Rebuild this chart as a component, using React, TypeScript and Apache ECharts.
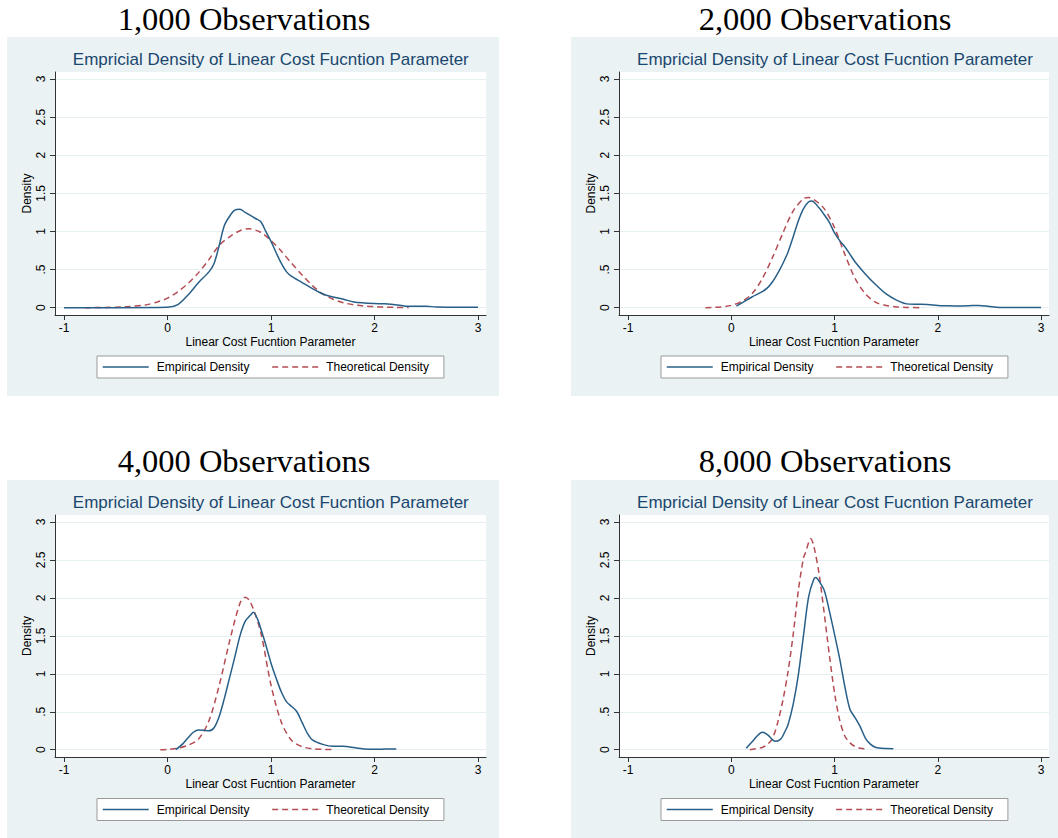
import React, { useEffect, useRef } from "react";
import * as echarts from "echarts";

// Tick positions and labels shared by all four panels
const xTicks = [-1, 0, 1, 2, 3];
const yTicks = [0, 0.5, 1, 1.5, 2, 2.5, 3];
const yTickLabels = ["0", ".5", "1", "1.5", "2", "2.5", "3"];

const panelTitles = ["1,000 Observations", "2,000 Observations", "4,000 Observations", "8,000 Observations"];
const chartTitle = "Empricial Density of Linear Cost Fucntion Parameter";
const xAxisTitle = "Linear Cost Fucntion Parameter";
const yAxisTitle = "Density";
const seriesNames = ["Empirical Density", "Theoretical Density"];

// 1,000 observations
const emp1000X = [-1.0, -0.5, 0.0, 0.1, 0.2, 0.3, 0.4, 0.45, 0.5, 0.55, 0.6, 0.65, 0.7, 0.75, 0.8, 0.85, 0.9, 0.95, 1.0, 1.05, 1.1, 1.15, 1.2, 1.3, 1.4, 1.5, 1.6, 1.7, 1.8, 1.9, 2.0, 2.1, 2.2, 2.3, 2.5, 2.6, 2.8, 3.0];
const emp1000Y = [0.0, 0.0, 0.005, 0.04, 0.17, 0.33, 0.47, 0.58, 0.82, 1.08, 1.2, 1.28, 1.29, 1.25, 1.21, 1.17, 1.13, 1.0, 0.87, 0.72, 0.58, 0.47, 0.41, 0.33, 0.25, 0.18, 0.14, 0.11, 0.075, 0.062, 0.055, 0.05, 0.04, 0.02, 0.018, 0.01, 0.005, 0.005];
const theo1000X = [-0.8, -0.6, -0.4, -0.2, -0.1, 0.0, 0.1, 0.2, 0.3, 0.4, 0.5, 0.6, 0.7, 0.78, 0.9, 1.0, 1.1, 1.2, 1.3, 1.4, 1.5, 1.6, 1.7, 1.8, 1.9, 2.0, 2.1, 2.2, 2.33];
const theo1000Y = [0.0, 0.003, 0.012, 0.04, 0.075, 0.125, 0.21, 0.32, 0.46, 0.63, 0.82, 0.93, 1.01, 1.035, 0.99, 0.88, 0.74, 0.58, 0.43, 0.29, 0.18, 0.11, 0.065, 0.038, 0.022, 0.013, 0.007, 0.004, 0.003];

// 2,000 observations
const emp2000X = [0.05, 0.1, 0.2, 0.3, 0.35, 0.4, 0.45, 0.5, 0.55, 0.6, 0.65, 0.7, 0.75, 0.78, 0.85, 0.9, 0.95, 1.0, 1.05, 1.1, 1.15, 1.2, 1.3, 1.4, 1.5, 1.6, 1.7, 1.8, 1.9, 2.0, 2.1, 2.2, 2.3, 2.4, 2.5, 2.6, 2.8, 3.0];
const emp2000Y = [0.02, 0.06, 0.14, 0.21, 0.26, 0.34, 0.45, 0.58, 0.73, 0.93, 1.14, 1.3, 1.39, 1.4, 1.31, 1.22, 1.12, 0.98, 0.88, 0.8, 0.7, 0.6, 0.44, 0.3, 0.18, 0.1, 0.05, 0.045, 0.042, 0.03, 0.025, 0.022, 0.025, 0.03, 0.015, 0.003, 0.002, 0.002];
const theo2000X = [-0.25, -0.1, 0.0, 0.1, 0.2, 0.3, 0.4, 0.5, 0.6, 0.7, 0.75, 0.8, 0.9, 1.0, 1.1, 1.2, 1.3, 1.4, 1.5, 1.6, 1.7, 1.86];
const theo2000Y = [0.0, 0.01, 0.03, 0.08, 0.18, 0.38, 0.66, 0.98, 1.27, 1.43, 1.445, 1.42, 1.3, 1.05, 0.7, 0.38, 0.18, 0.07, 0.03, 0.01, 0.003, 0.0];

// 4,000 observations
const emp4000X = [0.08, 0.15, 0.2, 0.25, 0.3, 0.35, 0.4, 0.45, 0.5, 0.55, 0.6, 0.65, 0.7, 0.75, 0.8, 0.83, 0.87, 0.9, 0.95, 1.0, 1.05, 1.1, 1.15, 1.2, 1.25, 1.3, 1.35, 1.4, 1.5, 1.6, 1.7, 1.75, 1.8, 1.9, 2.0, 2.1, 2.21];
const emp4000Y = [0.0, 0.08, 0.16, 0.23, 0.26, 0.255, 0.25, 0.29, 0.44, 0.68, 0.95, 1.22, 1.5, 1.69, 1.77, 1.81, 1.72, 1.6, 1.38, 1.14, 0.94, 0.76, 0.63, 0.57, 0.5, 0.36, 0.22, 0.13, 0.07, 0.045, 0.045, 0.04, 0.028, 0.01, 0.005, 0.008, 0.01];
const theo4000X = [-0.07, 0.0, 0.1, 0.2, 0.3, 0.4, 0.5, 0.6, 0.7, 0.75, 0.8, 0.9, 1.0, 1.1, 1.2, 1.3, 1.4, 1.5, 1.62];
const theo4000Y = [0.0, 0.004, 0.02, 0.06, 0.14, 0.38, 0.85, 1.43, 1.93, 2.01, 1.95, 1.55, 0.85, 0.36, 0.12, 0.04, 0.012, 0.004, 0.002];

// 8,000 observations
const emp8000X = [0.145, 0.2, 0.25, 0.3, 0.35, 0.4, 0.43, 0.48, 0.52, 0.55, 0.6, 0.65, 0.7, 0.75, 0.8, 0.82, 0.85, 0.9, 0.95, 1.0, 1.05, 1.1, 1.15, 1.2, 1.25, 1.3, 1.35, 1.4, 1.5, 1.57];
const emp8000Y = [0.02, 0.1, 0.18, 0.23, 0.2, 0.13, 0.11, 0.14, 0.24, 0.33, 0.6, 0.99, 1.51, 2.02, 2.25, 2.27, 2.22, 2.1, 1.83, 1.52, 1.2, 0.83, 0.53, 0.42, 0.3, 0.15, 0.07, 0.03, 0.015, 0.013];
const theo8000X = [0.18, 0.3, 0.35, 0.4, 0.45, 0.5, 0.55, 0.6, 0.65, 0.7, 0.72, 0.77, 0.8, 0.85, 0.9, 0.95, 1.0, 1.05, 1.1, 1.15, 1.2, 1.25, 1.31];
const theo8000Y = [0.0, 0.03, 0.07, 0.15, 0.36, 0.65, 1.03, 1.52, 2.1, 2.53, 2.6, 2.78, 2.68, 2.32, 1.8, 1.25, 0.75, 0.39, 0.18, 0.09, 0.04, 0.02, 0.01];

const empiricalX = [emp1000X, emp2000X, emp4000X, emp8000X];
const empiricalY = [emp1000Y, emp2000Y, emp4000Y, emp8000Y];
const theoreticalX = [theo1000X, theo2000X, theo4000X, theo8000X];
const theoreticalY = [theo1000Y, theo2000Y, theo4000Y, theo8000Y];

// Panel layout in page pixels
const layout = [
  { bgX: 7, bgY: 37, bgW: 492, bgH: 359, gL: 55, gT: 72, gW: 431, gH: 243, headX: 244, headY: 18.5, titleX: 270.8, titleY: 59.5, legL: 97, legT: 356 },
  { bgX: 571, bgY: 37, bgW: 487, bgH: 359, gL: 619, gT: 72, gW: 430, gH: 243, headX: 825, headY: 18.5, titleX: 835, titleY: 59.5, legL: 661, legT: 356 },
  { bgX: 7, bgY: 480, bgW: 492, bgH: 358, gL: 55, gT: 515, gW: 431, gH: 242, headX: 244, headY: 461, titleX: 270.8, titleY: 502.5, legL: 97, legT: 798.5 },
  { bgX: 571, bgY: 480, bgW: 487, bgH: 358, gL: 619, gT: 515, gW: 430, gH: 242, headX: 825, headY: 461, titleX: 835, titleY: 502.5, legL: 661, legT: 798.5 },
];

const SANS = "'Liberation Sans', Arial, Helvetica, sans-serif";
const SERIF = "'Liberation Serif', 'Times New Roman', serif";
const NAVY = "#1A476F";
const LINE_BLUE = "#285F88";
const LINE_RED = "#B44C53";
const BG = "#EAF2F3";

function pairs(xs: number[], ys: number[]) {
  return xs.map((x, i) => [x, ys[i]]);
}

function buildOption() {
  const grid: any[] = [];
  const xAxis: any[] = [];
  const yAxis: any[] = [];
  const series: any[] = [];
  const legend: any[] = [];
  const graphic: any[] = [];

  layout.forEach((p, i) => {
    graphic.push({
      type: "rect",
      z: -10,
      silent: true,
      shape: { x: p.bgX, y: p.bgY, width: p.bgW, height: p.bgH },
      style: { fill: BG },
    });
    graphic.push({
      type: "text",
      x: p.headX,
      y: p.headY,
      silent: true,
      style: { text: panelTitles[i], font: `32.5px ${SERIF}`, fill: "#000", align: "center", verticalAlign: "middle" },
    });
    graphic.push({
      type: "text",
      x: p.titleX,
      y: p.titleY,
      silent: true,
      style: { text: chartTitle, font: `17px ${SANS}`, fill: NAVY, align: "center", verticalAlign: "middle" },
    });

    grid.push({
      left: p.gL,
      top: p.gT,
      width: p.gW,
      height: p.gH,
      show: true,
      backgroundColor: "#ffffff",
      borderWidth: 0,
      containLabel: false,
    });

    xAxis.push({
      type: "value",
      gridIndex: i,
      min: -1.087,
      max: 3.077,
      name: xAxisTitle,
      nameLocation: "middle",
      nameGap: 21,
      nameTextStyle: { fontSize: 12, color: "#000", fontFamily: SANS },
      axisLine: { show: true, onZero: false, lineStyle: { color: "#333", width: 1 } },
      axisTick: { show: true, length: 5, customValues: xTicks, lineStyle: { color: "#333" } },
      axisLabel: { customValues: xTicks, fontSize: 12, color: "#000", margin: 7, fontFamily: SANS, formatter: (v: number) => String(v) },
      splitLine: { show: false },
    });

    yAxis.push({
      type: "value",
      gridIndex: i,
      min: -0.096,
      max: 3.092,
      name: yAxisTitle,
      nameLocation: "middle",
      nameGap: 22,
      nameTextStyle: { fontSize: 12, color: "#000", fontFamily: SANS },
      axisLine: { show: true, onZero: false, lineStyle: { color: "#333", width: 1 } },
      axisTick: { show: true, length: 5, customValues: yTicks, lineStyle: { color: "#333" } },
      axisLabel: {
        customValues: yTicks,
        rotate: 90,
        fontSize: 12,
        color: "#000",
        margin: 8,
        fontFamily: SANS,
        formatter: (v: number) => {
          const k = yTicks.findIndex((t) => Math.abs(t - v) < 1e-9);
          return k >= 0 ? yTickLabels[k] : "";
        },
      },
      splitLine: { show: true, lineStyle: { color: "#E6EFF1", width: 1 } },
    });

    series.push({
      name: seriesNames[0],
      type: "line",
      xAxisIndex: i,
      yAxisIndex: i,
      data: pairs(empiricalX[i], empiricalY[i]),
      showSymbol: false,
      symbol: "none",
      smooth: 0.3,
      lineStyle: { color: LINE_BLUE, width: 1.5 },
      itemStyle: { color: LINE_BLUE },
      z: 3,
    });
    series.push({
      name: seriesNames[1],
      type: "line",
      xAxisIndex: i,
      yAxisIndex: i,
      data: pairs(theoreticalX[i], theoreticalY[i]),
      showSymbol: false,
      symbol: "none",
      smooth: 0.3,
      lineStyle: { color: LINE_RED, width: 1.5, type: [6, 4] },
      itemStyle: { color: LINE_RED },
      z: 2,
    });

    legend.push({
      data: seriesNames,
      left: p.legL,
      top: p.legT,
      orient: "horizontal",
      padding: [5, 15, 5, 5],
      itemGap: 22,
      itemWidth: 46,
      itemHeight: 12,
      backgroundColor: "#ffffff",
      borderColor: "#9a9a9a",
      borderWidth: 1,
      borderRadius: 0,
      selectedMode: false,
      // legend keys are plain line samples, no marker
      itemStyle: { opacity: 0 },
      lineStyle: { width: 1.5 },
      textStyle: { fontSize: 12, color: "#000", fontFamily: SANS, padding: [0, 0, 0, 3] },
    });
  });

  return {
    animation: false,
    backgroundColor: "#ffffff",
    textStyle: { fontFamily: SANS },
    grid,
    xAxis,
    yAxis,
    series,
    legend,
    graphic,
  };
}

export default function App() {
  const ref = useRef<HTMLDivElement>(null);

  useEffect(() => {
    if (!ref.current) return;
    const chart = echarts.init(ref.current, undefined, { renderer: "svg" });
    chart.setOption(buildOption() as any);
    return () => chart.dispose();
  }, []);

  return (
    <div
      ref={ref}
      style={{ position: "absolute", left: 0, top: 0, width: 1058, height: 838 }}
    />
  );
}
